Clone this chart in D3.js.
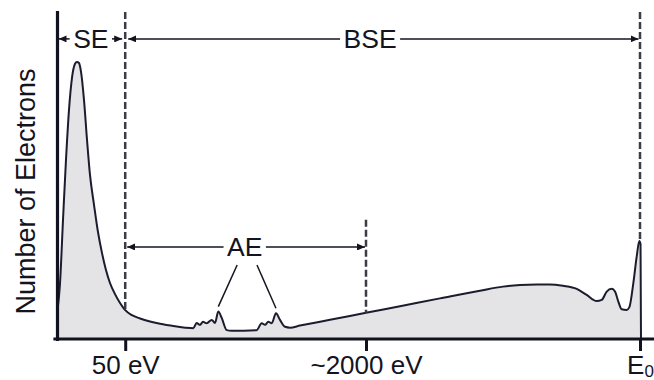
<!DOCTYPE html>
<html>
<head>
<meta charset="utf-8">
<script src="https://cdn.jsdelivr.net/npm/d3@7"></script>
<style>
  html, body { margin: 0; padding: 0; background: #fff; }
  svg { display: block; font-family: "Liberation Sans", Arial, Helvetica, sans-serif; }
</style>
</head>
<body>
<svg id="chart" width="654" height="380"></svg>
<script>
// Emitted-electron energy spectrum (schematic).
// Energy on a schematic axis where E0 = 100; counts normalised to the SE peak = 100.
const energyPos = [
  0.1, 0.5, 1.03, 1.54, 2.06, 2.57, 3.09, 3.43, 3.77, 4.12, 4.63, 5.15, 5.66, 6.35,
  7.03, 7.72, 8.40, 9.09, 9.95, 10.81, 11.66, 12.86, 14.24, 15.95, 17.67, 20.24, 22.0,
  23.37, 23.96, 24.53, 25.04, 25.68, 26.54, 27.10, 27.67, 28.25, 29.11, 29.97, 34.25,
  35.11, 35.68, 36.24, 36.83, 37.56, 38.25, 39.11, 39.97,
  41.68, 46.83, 53.0, 58.83, 65.69, 72.56, 76.50, 79.42, 82.28, 84.56, 86.79, 89.14, 90.86,
  92.57, 93.43, 94.29, 95.15, 95.71, 96.28, 96.86, 97.72, 98.16, 98.85, 99.43, 99.88,
  100.09, 100.17
];
const counts = [
  10.5, 19.5, 43.0, 64.6, 82.7, 94.2, 99.3, 100, 99.6, 96.4, 86.3, 71.8, 59.2, 48.4,
  38.6, 31.0, 24.9, 20.2, 16.2, 13.0, 10.5, 8.6, 7.4, 6.3, 5.5, 4.6, 4.1,
  3.9, 5.8, 5.1, 6.2, 5.7, 6.9, 5.8, 9.9, 7.6, 3.2, 3.0, 3.2,
  5.7, 5.1, 6.2, 5.7, 9.3, 6.9, 4.4, 4.1,
  4.84, 6.93, 9.46, 11.84, 14.66, 17.44, 18.9, 19.5, 19.7, 19.7, 19.2, 18.1, 15.9,
  13.7, 14.1, 17.1, 18.1, 17.1, 13.5, 10.7, 10.5, 11.4, 20.1, 29.7, 35.4,
  34.3, 0
];

// x-axis ticks
const tickValues = [11.7, 53.0, 100];
const tickLabels = ["50 eV", "~2000 eV", "E"];
const tickSubscripts = ["", "", "0"];

// Dashed guides at the region boundaries
const guidePos = [11.7, 53.0, 100];
const guideTop = [118, 43, 118];
const guideBottom = [10.5, 9.46, 35.4];

// Region spans (SE, BSE, AE)
const regionNames = ["SE", "BSE", "AE"];
const regionStart = [0, 11.7, 11.7];
const regionEnd = [11.7, 100, 53.0];
const regionLevel = [108.3, 108.3, 33.2];
const regionLabelPos = [5.8, 53.7, 32.2];

// Auger peaks and the leader lines from the AE label
const augerPeakPos = [27.67, 37.56];
const augerPeakCount = [9.9, 9.3];
const augerLeaderStart = [30.9, 34.3];
const augerLeaderLevel = 26.7;

const svg = d3.select("#chart");
const x = d3.scaleLinear().domain([0, 102.4]).range([57, 654]);
const y = d3.scaleLinear().domain([0, 118]).range([339, 12]);

const pts = energyPos.map((e, i) => [e, counts[i]]);
const ink = "#14141f";

// filled spectrum
svg.append("path")
  .datum(pts)
  .attr("fill", "#e4e4e7")
  .attr("d", d3.area().x(d => x(d[0])).y0(y(0)).y1(d => y(d[1])).curve(d3.curveMonotoneX));

svg.append("path")
  .datum(pts)
  .attr("fill", "none")
  .attr("stroke", "#1b1d2e")
  .attr("stroke-width", 2)
  .attr("stroke-linejoin", "round")
  .attr("d", d3.line().x(d => x(d[0])).y(d => y(d[1])).curve(d3.curveMonotoneX));

// dashed guides
svg.append("g").selectAll("line")
  .data(guidePos)
  .join("line")
  .attr("x1", d => x(d)).attr("x2", d => x(d))
  .attr("y1", (d, i) => y(guideTop[i]))
  .attr("y2", (d, i) => y(guideBottom[i]))
  .attr("stroke", "#3c3c44")
  .attr("stroke-width", 2.5)
  .attr("stroke-dasharray", "7,3");

// axes
const xAxis = svg.append("g")
  .attr("transform", `translate(0,${y(0)})`)
  .call(d3.axisBottom(x).tickValues(tickValues).tickSize(12).tickSizeOuter(0).tickFormat((d, i) => tickLabels[i]));
xAxis.select(".domain").attr("stroke", "#10121f").attr("stroke-width", 3.2).attr("stroke-linecap", "square")
  .attr("d", `M${x.range()[0] - 2},0H${x.range()[1]}`);
xAxis.selectAll(".tick line").attr("stroke", "#10121f").attr("stroke-width", 3);
xAxis.selectAll(".tick text")
  .attr("fill", ink)
  .attr("font-size", 26)
  .attr("font-family", "Liberation Sans, Arial, sans-serif")
  .attr("dy", null)
  .attr("y", 35)
  .each(function (d, i) {
    if (tickSubscripts[i]) {
      d3.select(this).append("tspan")
        .attr("font-size", 17)
        .attr("dy", 3)
        .text(tickSubscripts[i]);
    }
  });

const yAxis = svg.append("g")
  .attr("transform", `translate(${x(0)},0)`)
  .call(d3.axisLeft(y).tickValues([]).tickSizeOuter(0));
yAxis.select(".domain").attr("stroke", "#10121f").attr("stroke-width", 3.2).attr("stroke-linecap", "square");

// y-axis title
svg.append("text")
  .attr("transform", `translate(35,${(y(0) + y(118)) / 2 + 16}) rotate(-90)`)
  .attr("text-anchor", "middle")
  .attr("font-size", 27)
  .attr("fill", ink)
  .text("Number of Electrons");

// arrowheads
const defs = svg.append("defs");
defs.append("marker")
  .attr("id", "head")
  .attr("viewBox", "0 0 8 7")
  .attr("refX", 8).attr("refY", 3.5)
  .attr("markerWidth", 8).attr("markerHeight", 7)
  .attr("markerUnits", "userSpaceOnUse")
  .attr("orient", "auto-start-reverse")
  .append("path").attr("d", "M0,0L8,3.5L0,7Z").attr("fill", ink);

// region spans with labels
const pad = [1.5, 3, 2];
const padEnd = [3, 1.5, 1];
regionNames.forEach((name, i) => {
  const ly = y(regionLevel[i]);
  const x0 = x(regionStart[i]) + pad[i];
  const x1 = x(regionEnd[i]) - padEnd[i];
  const t = svg.append("text")
    .attr("x", x(regionLabelPos[i]))
    .attr("y", ly + 9.5)
    .attr("text-anchor", "middle")
    .attr("font-size", 26.5)
    .attr("fill", ink)
    .text(name);
  const w = t.node().getComputedTextLength();
  const gap = 3.5;
  svg.append("line")
    .attr("x1", x(regionLabelPos[i]) - w / 2 - gap).attr("x2", x0)
    .attr("y1", ly).attr("y2", ly)
    .attr("stroke", ink).attr("stroke-width", 1.5)
    .attr("marker-end", "url(#head)");
  svg.append("line")
    .attr("x1", x(regionLabelPos[i]) + w / 2 + gap).attr("x2", x1)
    .attr("y1", ly).attr("y2", ly)
    .attr("stroke", ink).attr("stroke-width", 1.5)
    .attr("marker-end", "url(#head)");
});

// leader lines to the Auger peaks
svg.append("g").selectAll("line")
  .data(augerPeakPos)
  .join("line")
  .attr("x1", (d, i) => x(augerLeaderStart[i]))
  .attr("y1", y(augerLeaderLevel))
  .attr("x2", d => x(d))
  .attr("y2", (d, i) => y(augerPeakCount[i] + 1.8))
  .attr("stroke", ink)
  .attr("stroke-width", 1.5);
</script>
</body>
</html>
